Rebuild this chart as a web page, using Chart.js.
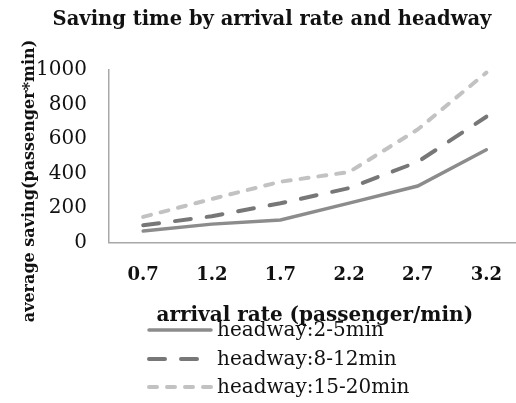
<!DOCTYPE html>
<html>
<head>
<meta charset="utf-8">
<script src="https://cdn.jsdelivr.net/npm/chart.js@4.4.1/dist/chart.umd.min.js"></script>
<style>
  html, body { margin: 0; padding: 0; background: #fff; overflow: hidden; }
  #wrap { width: 524px; height: 403px; }
</style>
</head>
<body>
<div id="wrap"><canvas id="savingChart"></canvas></div>
<script>
// Data
const arrivalRates = ['0.7', '1.2', '1.7', '2.2', '2.7', '3.2'];
const headway2to5 = [66, 106, 130, 228, 327, 537];
const headway8to12 = [99, 152, 227, 315, 467, 729];
const headway15to20 = [148, 252, 352, 408, 655, 985];
const seriesNames = ['headway:2-5min', 'headway:8-12min', 'headway:15-20min'];
const yTicks = [0, 200, 400, 600, 800, 1000];

const serif = '"DejaVu Serif", "Liberation Serif", serif';

// Title, rotated y title and the stacked legend are drawn here
const extraText = {
    id: 'extraText',
    afterDraw(chart) {
        const ctx = chart.ctx;
        ctx.save();
        ctx.fillStyle = '#111';

        ctx.font = 'bold 19.5px ' + serif;
        ctx.textAlign = 'center';
        ctx.textBaseline = 'middle';
        ctx.fillText('Saving time by arrival rate and headway', 272, 20);

        ctx.save();
        ctx.translate(30, 181);
        ctx.rotate(-Math.PI / 2);
        ctx.font = 'bold 16px ' + serif;
        ctx.fillText('average saving(passenger*min)', 0, 0);
        ctx.restore();

        // legend, one entry per row
        const rows = [330, 359, 387];
        chart.data.datasets.forEach((ds, i) => {
            ctx.strokeStyle = ds.borderColor;
            ctx.lineWidth = ds.borderWidth;
            ctx.lineCap = 'round';
            ctx.setLineDash(ds.borderDash || []);
            ctx.beginPath();
            ctx.moveTo(149, rows[i]);
            ctx.lineTo(211, rows[i]);
            ctx.stroke();
            ctx.setLineDash([]);
            ctx.font = '20px ' + serif;
            ctx.textAlign = 'left';
            ctx.fillText(ds.label, 217, rows[i] + 1);
        });
        ctx.restore();
    }
};

const ctx = document.getElementById('savingChart').getContext('2d');
const savingChart = new Chart(ctx, {
    type: 'line',
    data: {
        labels: arrivalRates,
        datasets: [{
            label: seriesNames[0],
            data: headway2to5,
            borderColor: '#8c8c8c',
            borderWidth: 3.5,
            pointRadius: 0,
            tension: 0,
            borderCapStyle: 'round'
        }, {
            label: seriesNames[1],
            data: headway8to12,
            borderColor: '#777777',
            borderWidth: 4,
            borderDash: [16, 16],
            pointRadius: 0,
            tension: 0,
            borderCapStyle: 'round'
        }, {
            label: seriesNames[2],
            data: headway15to20,
            borderColor: '#c2c2c2',
            borderWidth: 4,
            borderDash: [8, 10],
            pointRadius: 0,
            tension: 0,
            borderCapStyle: 'round'
        }]
    },
    options: {
        responsive: true,
        maintainAspectRatio: false,
        animation: false,
        layout: {
            padding: { top: 70, left: 14, right: 0, bottom: 75 }
        },
        plugins: {
            legend: { display: false },
            title: { display: false },
            tooltip: { enabled: false }
        },
        scales: {
            x: {
                type: 'category',
                offset: true,
                grid: { display: false, drawTicks: false },
                border: { color: '#a8a8a8', width: 1.5 },
                ticks: {
                    color: '#111',
                    padding: 22,
                    maxRotation: 0,
                    autoSkip: false,
                    font: { family: serif, size: 18, weight: 'bold' }
                },
                title: {
                    display: true,
                    text: 'arrival rate (passenger/min)',
                    color: '#111',
                    padding: { top: -4, bottom: 0 },
                    font: { family: serif, size: 20, weight: 'bold' }
                }
            },
            y: {
                min: 0,
                max: 1000,
                afterBuildTicks(scale) {
                    scale.ticks = yTicks.map(v => ({ value: v }));
                },
                grid: { display: false, drawTicks: false },
                border: { color: '#a8a8a8', width: 1.5 },
                ticks: {
                    color: '#111',
                    padding: 22,
                    callback: v => String(v),
                    font: { family: serif, size: 20 }
                }
            }
        }
    },
    plugins: [extraText]
});
</script>
</body>
</html>
